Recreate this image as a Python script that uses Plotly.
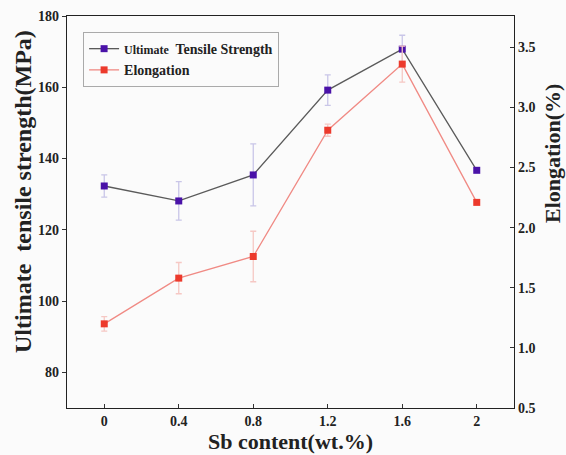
import plotly.graph_objects as go

sb = [0, 0.4, 0.8, 1.2, 1.6, 2]
uts = [132.3, 128.1, 135.4, 159.2, 170.7, 136.7]
uts_err = [3.1, 5.4, 8.7, 4.3, 3.9, 0]
elong = [1.20, 1.58, 1.76, 2.81, 3.36, 2.21]
elong_err = [0.06, 0.13, 0.21, 0.05, 0.15, 0]

x_ticks = [0, 0.4, 0.8, 1.2, 1.6, 2]
x_labels = ["0", "0.4", "0.8", "1.2", "1.6", "2"]
y_ticks = [80, 100, 120, 140, 160, 180]
y2_ticks = [0.5, 1.0, 1.5, 2.0, 2.5, 3.0, 3.5]

FONT = "Liberation Serif"

fig = go.Figure()
fig.add_trace(go.Scatter(
    x=sb, y=uts, mode="lines+markers",
    name="<span style='font-size:12px'>Ultimate</span>  Tensile Strength",
    line=dict(color="#5a5a5a", width=1.3),
    marker=dict(symbol="square", size=7, color="#4a12a8"),
    error_y=dict(type="data", array=uts_err, visible=True, color="#c9c6e8", thickness=1.3, width=3),
))
fig.add_trace(go.Scatter(
    x=sb, y=elong, mode="lines+markers", name="Elongation", yaxis="y2",
    line=dict(color="#f08a84", width=1.3),
    marker=dict(symbol="square", size=7, color="#ec3a2c"),
    error_y=dict(type="data", array=elong_err, visible=True, color="#f6c8c4", thickness=1.3, width=3),
))

def axis_common():
    return dict(showline=True, linecolor="#222", linewidth=1.3, showgrid=False, zeroline=False,
                automargin=False,
                tickfont=dict(family=FONT, size=14, color="#222", weight="bold"),
                ticklen=4, tickcolor="#333")

def title_font(size):
    return dict(family=FONT, size=size, color="#222", weight="bold")

fig.update_layout(
    width=566, height=455,
    margin=dict(l=67, r=52, t=16, b=47, autoexpand=False),
    paper_bgcolor="#fbfbfb", plot_bgcolor="#fbfbfb",
    font=dict(family=FONT, color="#222"),
    showlegend=True,
    legend=dict(x=0.036, y=0.959, xanchor="left", yanchor="top",
                bgcolor="#fbfbfb", bordercolor="#aaa", borderwidth=1,
                font=dict(family=FONT, size=14, color="#222", weight="bold"),
                tracegroupgap=0, itemwidth=30),
    xaxis=dict(range=[-0.2, 2.2], tickvals=x_ticks, ticktext=x_labels, ticks="inside",
               mirror=True, **axis_common()),
    yaxis=dict(range=[70, 180], tickvals=y_ticks, ticks="outside", **axis_common()),
    yaxis2=dict(range=[0.5, 3.76], tickvals=y2_ticks, tickformat=".1f", ticks="inside",
                overlaying="y", side="right", **axis_common()),
    annotations=[
        dict(text="Sb content(wt.%)", x=(290 - 67) / 447, y=(408 - 441) / 392, xref="paper", yref="paper",
             xanchor="center", yanchor="middle", showarrow=False, font=title_font(22)),
        dict(text="Ultimate  tensile strength(MPa)", x=(23 - 67) / 447, y=(408 - 192) / 392,
             xref="paper", yref="paper", xanchor="center", yanchor="middle",
             showarrow=False, textangle=-90, font=title_font(24)),
        dict(text="Elongation(%)", x=(552 - 67) / 447, y=(408 - 154) / 392,
             xref="paper", yref="paper", xanchor="center", yanchor="middle",
             showarrow=False, textangle=-90, font=title_font(22)),
    ],
)
fig.write_html("out.html", config={"displayModeBar": False},
               post_script="document.body.style.margin='0';document.body.style.background='#fbfbfb';")
